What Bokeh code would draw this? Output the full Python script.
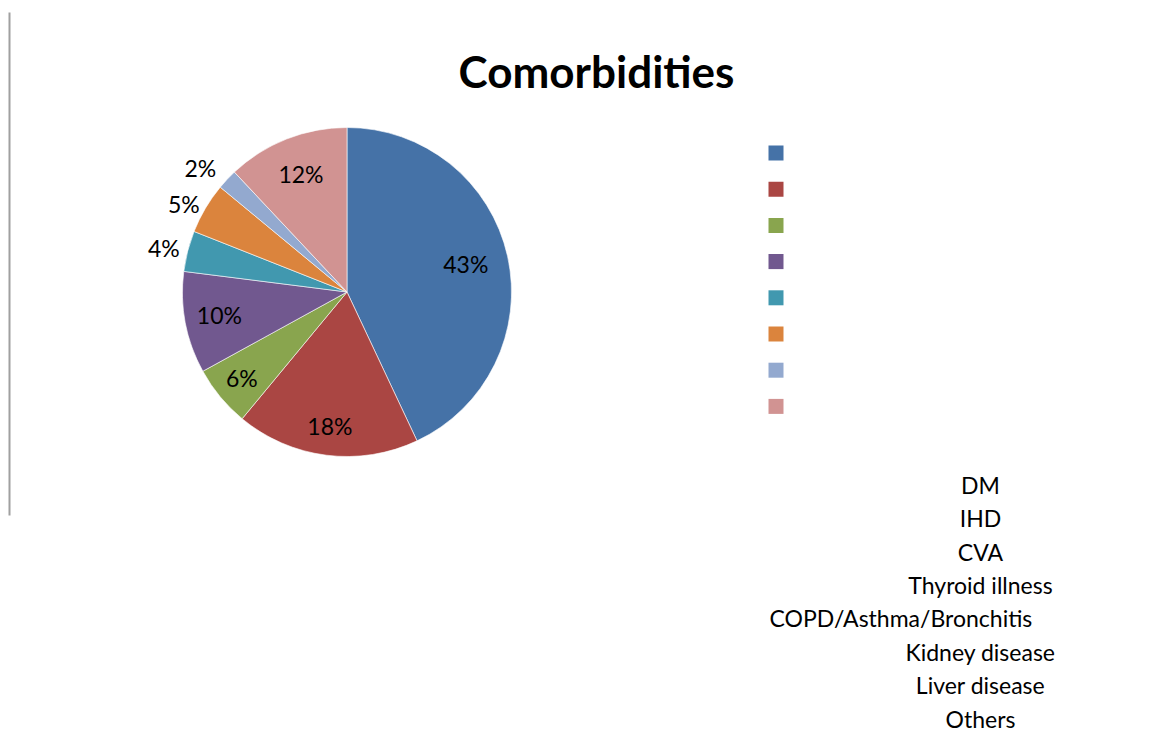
import numpy as np
from bokeh.plotting import figure
from bokeh.models import ColumnDataSource, Range1d, Label
from bokeh.core.properties import value
from bokeh.embed import file_html
from bokeh.resources import INLINE

# ---- data ----
categories = ["DM", "IHD", "CVA", "Thyroid illness", "COPD/Asthma/Bronchitis",
              "Kidney disease", "Liver disease", "Others"]
shares = [43, 18, 6, 10, 4, 5, 2, 12]
colors = ["#4572A7", "#AA4643", "#89A54E", "#71588F", "#4198AF",
          "#DB843D", "#93A9CF", "#D19392"]
title_text = "Comorbidities"

# ---- layout / style (pixel units) ----
W, H = 1152, 736
CX, CY, R = 346.5, 291.5, 164.5
label_r = [0.74, 0.83, 0.83, 0.79, 1.05, 1.04, 1.09, 0.76]   # label distance / R
label_outside = [False, False, False, False, True, True, True, False]
PCT_SIZE = 23
LEG_X, LEG_Y0, LEG_STEP, SQ = 775.5, 152.5, 36.2, 15
TXT_X, TXT_Y0, TXT_STEP, TXT_LEFT = 980, 494, 33.4, 769
LEG_SIZE = 23
BASE_FIX = 0.42   # renderer draws alphabetic baseline ~0.42em low
FONT = "Lato"

frac = np.array(shares, dtype=float) / sum(shares)
cum = np.concatenate([[0.0], np.cumsum(frac)])
start = np.pi / 2 - 2 * np.pi * cum[:-1]
end = np.pi / 2 - 2 * np.pi * cum[1:]
mid = np.pi * (cum[:-1] + cum[1:])          # clockwise from 12 o'clock
rr = np.array(label_r) * R
lx = CX + rr * np.sin(mid)
ly = CY - rr * np.cos(mid) + (0.36 - BASE_FIX) * PCT_SIZE
pct = [f"{round(f * 100)}%" for f in frac]

p = figure(width=W, height=H, x_range=Range1d(0, W), y_range=Range1d(H, 0),
           output_backend="svg", toolbar_location=None, min_border=0,
           x_axis_type=None, y_axis_type=None)
p.grid.visible = False
p.outline_line_color = None
p.background_fill_color = "white"

src = ColumnDataSource(dict(cat=categories, start=start, end=end, color=colors))
p.wedge(x=CX, y=CY, radius=R, start_angle="start", end_angle="end",
        direction="clock", fill_color="color", line_color="white",
        line_width=0.6, source=src)

inside = [i for i, o in enumerate(label_outside) if not o]
outside = [i for i, o in enumerate(label_outside) if o]
src_in = ColumnDataSource(dict(x=lx[inside], y=ly[inside], t=[pct[i] for i in inside]))
src_out = ColumnDataSource(dict(x=lx[outside], y=ly[outside], t=[pct[i] for i in outside]))
p.text(x="x", y="y", text="t", source=src_in, text_align="center",
       text_baseline="alphabetic", text_font=value(FONT),
       text_font_size=f"{PCT_SIZE}px", text_color="black")
p.text(x="x", y="y", text="t", source=src_out, text_align="right",
       text_baseline="alphabetic", text_font=value(FONT),
       text_font_size=f"{PCT_SIZE}px", text_color="black")

# legend swatches
n = len(categories)
idx = np.arange(n)
leg = ColumnDataSource(dict(x=[LEG_X] * n, y=LEG_Y0 + idx * LEG_STEP, color=colors))
p.rect(x="x", y="y", width=SQ, height=SQ, fill_color="color", line_color=None, source=leg)

# legend texts (displaced below, centred; long ones flush left)
ty = [TXT_Y0 + i * TXT_STEP - BASE_FIX * LEG_SIZE for i in range(n)]
long_ = [len(c) > 16 for c in categories]
src_c = ColumnDataSource(dict(x=[TXT_X] * sum(not l for l in long_),
                              y=[ty[i] for i in range(n) if not long_[i]],
                              t=[c for c, l in zip(categories, long_) if not l]))
src_l = ColumnDataSource(dict(x=[TXT_LEFT] * sum(long_),
                              y=[ty[i] for i in range(n) if long_[i]],
                              t=[c for c, l in zip(categories, long_) if l]))
p.text(x="x", y="y", text="t", source=src_c, text_align="center",
       text_baseline="alphabetic", text_font=value(FONT),
       text_font_size=f"{LEG_SIZE}px", text_color="black")
p.text(x="x", y="y", text="t", source=src_l, text_align="left",
       text_baseline="alphabetic", text_font=value(FONT),
       text_font_size=f"{LEG_SIZE}px", text_color="black")

# left border line
p.segment(x0=[9], y0=[12], x1=[9], y1=[515], line_color="#a0a0a0", line_width=2)

TITLE_SIZE = 44
p.add_layout(Label(x=596, y=89 - BASE_FIX * TITLE_SIZE, text=title_text,
                   text_align="center", text_baseline="alphabetic",
                   text_font=FONT, text_font_style="bold",
                   text_font_size=f"{TITLE_SIZE}px", text_color="black"))

open("out.html", "w").write(file_html(p, INLINE))
